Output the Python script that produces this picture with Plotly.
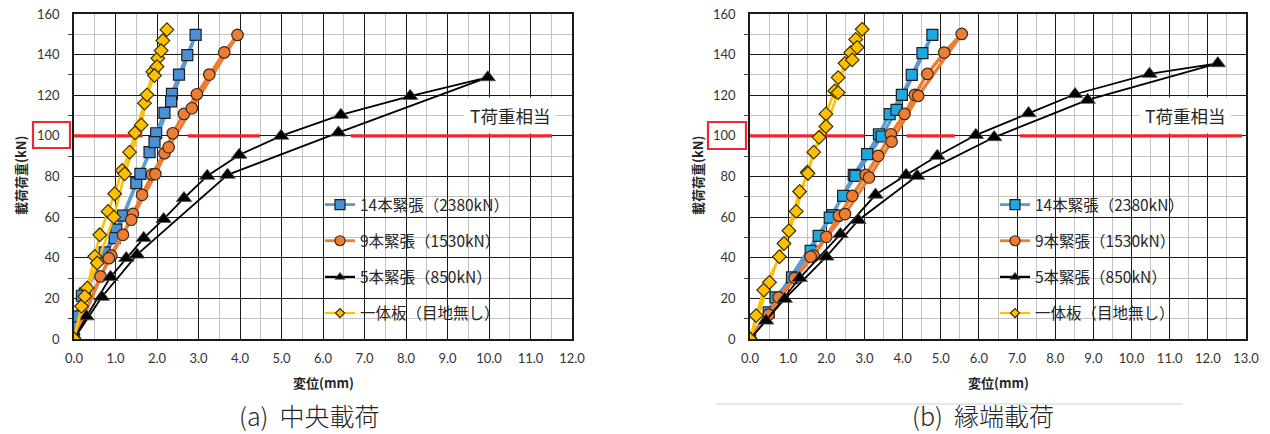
import plotly.graph_objects as go

W, H = 1270, 434

# ---------------- data : (a) 中央載荷 ----------------
a14_x = [0, 0.02, 0.26, 0.74, 1.02, 1.18, 1.50, 1.82, 1.98, 2.18, 2.36, 2.53, 2.73, 2.93,
         2.34, 1.94, 1.60, 0.98, 0.19, 0]
a14_y = [0, 11.1, 22.3, 42.6, 53.8, 60.7, 76.7, 92.0, 101.3, 111.3, 120.7, 130.2, 139.8, 149.7,
         117.0, 96.9, 81.3, 49.7, 21.3, 0]

a9_x = [0, 0.64, 0.90, 1.18, 1.42, 1.64, 1.88, 2.18, 2.38, 2.65, 2.96, 3.26, 3.62, 3.94,
        2.84, 2.28, 1.96, 1.38, 0.84, 0]
a9_y = [0, 30.8, 41.0, 51.3, 61.6, 71.0, 81.0, 91.5, 101.3, 110.8, 120.5, 130.2, 141.1, 149.7,
        113.6, 94.4, 81.2, 58.7, 39.8, 0]

a5_x = [0, 0.30, 0.88, 1.26, 1.68, 2.16, 2.65, 3.21, 3.98, 4.99, 6.43, 8.10, 9.97,
        6.37, 3.70, 1.52, 0.67, 0]
a5_y = [0, 11.1, 30.5, 39.8, 49.7, 59.0, 69.3, 80.3, 90.6, 100.0, 110.3, 119.6, 128.8,
        101.6, 80.8, 41.5, 20.7, 0]

a1_x = [0, 0.18, 0.32, 0.50, 0.62, 0.82, 0.98, 1.16, 1.34, 1.47, 1.70, 1.90, 2.02, 2.14, 2.24,
        2.10, 2.00, 1.94, 1.76, 1.62, 1.22, 0.96, 0.56, 0.26, 0]
a1_y = [0, 16.1, 25.1, 40.7, 51.3, 62.8, 71.5, 83.0, 92.0, 101.5, 116.1, 131.6, 138.2, 146.9, 152.3,
        142.0, 134.1, 129.7, 120.2, 105.4, 81.3, 60.0, 37.4, 21.0, 0]

# ---------------- data : (b) 縁端載荷 ----------------
b14_x = [0, 0.49, 0.67, 1.10, 1.59, 1.80, 2.16, 2.44, 2.72, 3.07, 3.38, 3.66, 3.98, 4.24, 4.52, 4.78,
         3.84, 3.45, 2.76, 2.09, 0]
b14_y = [0, 13.1, 20.5, 30.3, 43.4, 50.8, 61.0, 70.5, 80.8, 91.0, 100.8, 110.7, 120.2, 130.0, 140.7, 149.7,
         112.8, 99.7, 80.3, 59.8, 0]

b9_x = [0, 0.49, 0.75, 1.17, 1.67, 2.00, 2.33, 2.68, 3.03, 3.36, 3.69, 4.05, 4.32, 4.65, 5.09, 5.55,
        4.41, 3.71, 3.12, 2.49, 1.59, 0]
b9_y = [0, 12.0, 20.5, 30.0, 41.0, 50.3, 60.7, 70.5, 80.8, 90.2, 100.8, 110.8, 120.2, 130.5, 141.0, 150.2,
        119.7, 97.2, 79.5, 61.5, 40.5, 0]

b5_x = [0, 0.42, 1.30, 2.37, 3.29, 4.09, 4.91, 5.92, 7.30, 8.52, 10.47, 12.26,
        8.85, 6.40, 4.38, 2.84, 2.00, 0.91, 0]
b5_y = [0, 9.0, 30.0, 51.6, 71.0, 80.7, 90.1, 100.4, 111.1, 120.5, 130.5, 135.7,
        117.7, 99.3, 80.3, 58.5, 40.5, 19.7, 0]

b1_x = [0, 0.16, 0.36, 0.77, 1.02, 1.21, 1.50, 1.81, 1.99, 2.22, 2.49, 2.64, 2.77, 2.94,
        2.81, 2.68, 2.31, 2.31, 1.99, 1.67, 1.52, 1.30, 0.89, 0.51, 0]
b1_y = [0, 11.5, 24.1, 40.5, 53.3, 62.8, 82.1, 99.3, 110.8, 122.1, 135.7, 141.0, 147.5, 152.5,
        143.6, 137.4, 128.7, 121.3, 104.6, 92.0, 81.5, 72.6, 47.0, 27.9, 0]

series_names = ["14本緊張（2380kN）", "9本緊張（1530kN）", "5本緊張（850kN）", "一体板（目地無し）"]

# T荷重 reference line (100 kN) drawn in pieces, with gaps where the curves pass
t_load = 100
a_red_segments = [(0, 1.65), (2.74, 4.48), (6.67, 11.52)]
b_red_segments = [(0, 3.0), (4.1, 5.37), (7.07, 12.9)]
t_label = "T荷重相当"

x_ticks_a = [i for i in range(0, 13)]
x_ticks_b = [i for i in range(0, 14)]

# ---------------- styling ----------------
CJK = "Noto Sans CJK JP"
TICKF = "Lato"
styles = [
    dict(line=dict(color="#5b9bd5", width=3.2),
         marker=dict(symbol="square", size=11, line=dict(color="#1f1f1f", width=1.2))),
    dict(line=dict(color="#ed7d31", width=3.4),
         marker=dict(symbol="circle", size=11.5, color="#ed7d31", line=dict(color="#3a2a20", width=1.2))),
    dict(line=dict(color="#000000", width=1.8),
         marker=dict(symbol="triangle-up", size=13.5, color="#000000", line=dict(color="#555", width=0.8))),
    dict(line=dict(color="#ffc000", width=2.6),
         marker=dict(symbol="diamond", size=10.5, color="#ffc000", line=dict(color="#3a3000", width=1.2))),
]
legend_marker_size = [10, 10, 9, 7]
legend_line_width = [2.8, 2.8, 2.2, 2.2]
blue_fill = {"a": "#4a90d6", "b": "#1ea8e2"}


def fx(px):
    return px / W


def fy(py):
    return 1 - py / H


fig = go.Figure()


def add_panel(xs_list, ys_list, red_segments, xref, yref, legend_name, panel):
    rx, ry = [], []
    for s, e in red_segments:
        rx += [s, e, None]
        ry += [t_load, t_load, None]
    fig.add_trace(go.Scatter(x=rx, y=ry, mode="lines", xaxis=xref, yaxis=yref,
                             line=dict(color="#f0262e", width=3.2), showlegend=False,
                             hoverinfo="skip"))
    for i, (xs, ys) in enumerate(zip(xs_list, ys_list)):
        st = styles[i]
        mk = dict(st["marker"])
        if i == 0:
            mk["color"] = blue_fill[panel]
        fig.add_trace(go.Scatter(x=xs, y=ys, mode="lines+markers", name=series_names[i],
                                 xaxis=xref, yaxis=yref, line=st["line"], marker=mk,
                                 showlegend=False))
    # legend entries (same styles, legend-sized symbols)
    for i in range(len(xs_list)):
        st = styles[i]
        mk = dict(st["marker"])
        if i == 0:
            mk["color"] = blue_fill[panel]
        mk["size"] = legend_marker_size[i]
        ln = dict(st["line"])
        ln["width"] = legend_line_width[i]
        fig.add_trace(go.Scatter(x=[None], y=[None], mode="lines+markers", name=series_names[i],
                                 xaxis=xref, yaxis=yref, line=ln, marker=mk,
                                 legend=legend_name, legendgroup=f"{panel}{i}"))


add_panel([a14_x, a9_x, a5_x, a1_x], [a14_y, a9_y, a5_y, a1_y], a_red_segments, "x", "y", "legend", "a")
add_panel([b14_x, b9_x, b5_x, b1_x], [b14_y, b9_y, b5_y, b1_y], b_red_segments, "x2", "y2", "legend2", "b")

ydom = [fy(339), fy(14)]


def xaxis(dom, rng, ticks):
    return dict(domain=dom, range=rng, tickvals=ticks, ticktext=[f"{t:.1f}" for t in ticks],
                showgrid=True, gridcolor="#1a1a1a", gridwidth=1,
                minor=dict(dtick=0.5, showgrid=True, gridcolor="#c3c3c3", gridwidth=1),
                showline=True, linecolor="#1a1a1a", linewidth=1.5, mirror=True,
                zeroline=False, ticks="", ticklabelstandoff=7, automargin=False,
                tickfont=dict(family=TICKF, size=13, color="#333333"), fixedrange=True)


def yaxis(anchor):
    return dict(domain=ydom, range=[0, 160], dtick=20, tick0=0, anchor=anchor,
                showgrid=True, gridcolor="#1a1a1a", gridwidth=1,
                minor=dict(dtick=10, showgrid=True, gridcolor="#c3c3c3", gridwidth=1,
                           ticks="outside", ticklen=4, tickcolor="#444", tickwidth=1),
                showline=True, linecolor="#1a1a1a", linewidth=1.5, mirror=True,
                zeroline=False, ticks="", ticklabelstandoff=10, automargin=False,
                tickfont=dict(family=TICKF, size=13, color="#333333"), fixedrange=True)


leg_common = dict(xanchor="left", yanchor="top", bgcolor="rgba(0,0,0,0)",
                  font=dict(family=CJK, size=15.5, color="#262626"), tracegroupgap=13,
                  itemsizing="trace", traceorder="grouped", itemwidth=30)
fig.update_layout(
    width=W, height=H, margin=dict(l=0, r=0, t=0, b=0, autoexpand=False),
    paper_bgcolor="white", plot_bgcolor="white",
    xaxis=xaxis([fx(74), fx(572)], [0, 12], x_ticks_a),
    yaxis=yaxis("x"),
    xaxis2=dict(xaxis([fx(750), fx(1246)], [0, 13], x_ticks_b), anchor="y2"),
    yaxis2=yaxis("x2"),
    legend=dict(leg_common, x=fx(320), y=fy(188)),
    legend2=dict(leg_common, x=fx(995), y=fy(188)),
    showlegend=True,
)

shapes = []
# white legend panels (cover grid only)
for (x0, y0, x1, y1) in [(300, 183, 562, 320), (978, 185, 1228, 318)]:
    shapes.append(dict(type="rect", xref="paper", yref="paper", x0=fx(x0), x1=fx(x1),
                       y0=fy(y1), y1=fy(y0), fillcolor="white", line=dict(width=0), layer="between"))
# red boxes around "100"
for (x0, y0, x1, y1) in [(33, 122, 70, 148), (708, 122, 746, 149)]:
    shapes.append(dict(type="rect", xref="paper", yref="paper", x0=fx(x0), x1=fx(x1),
                       y0=fy(y1), y1=fy(y0), line=dict(color="#ee2a30", width=2.2),
                       fillcolor="rgba(0,0,0,0)", layer="above"))
# thin rule above caption (b)
shapes.append(dict(type="line", xref="paper", yref="paper", x0=fx(716), x1=fx(1183),
                   y0=fy(404), y1=fy(404), line=dict(color="#d0d0d0", width=1)))
fig.update_layout(shapes=shapes)

ann = []
for xc, ytitle_x in [(323, 20), (998, 697)]:
    ann.append(dict(text="変位(mm)", x=fx(xc), y=fy(382), xref="paper", yref="paper",
                    showarrow=False, font=dict(family=CJK, size=13, color="#262626", weight="bold"),
                    xanchor="center", yanchor="middle"))
    ann.append(dict(text="載荷荷重(kN)", x=fx(ytitle_x), y=fy(176), xref="paper", yref="paper",
                    showarrow=False, textangle=-90,
                    font=dict(family=CJK, size=13, color="#262626", weight="bold"),
                    xanchor="center", yanchor="middle"))
for xc in [510, 1185]:
    ann.append(dict(text=t_label, x=fx(xc), y=fy(116), xref="paper", yref="paper",
                    showarrow=False, bgcolor="white", borderpad=5,
                    font=dict(family=CJK, size=17.5, color="#262626"),
                    xanchor="center", yanchor="middle"))
ann.append(dict(text="(a)  中央載荷", x=fx(309), y=fy(415), xref="paper", yref="paper",
                showarrow=False, font=dict(family=CJK, size=25, color="#262626", weight=300),
                xanchor="center", yanchor="middle"))
ann.append(dict(text="(b)  縁端載荷", x=fx(983), y=fy(415), xref="paper", yref="paper",
                showarrow=False, font=dict(family=CJK, size=25, color="#262626", weight=300),
                xanchor="center", yanchor="middle"))
fig.update_layout(annotations=ann)

fig.write_html("out.html", config={"displayModeBar": False},
               post_script="document.body.style.margin='0';document.body.style.overflow='hidden';")
